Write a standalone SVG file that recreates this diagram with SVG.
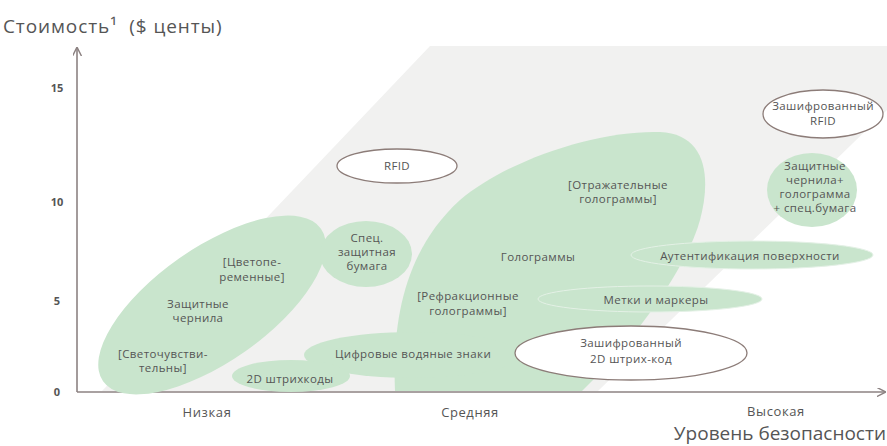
<svg xmlns="http://www.w3.org/2000/svg" width="887" height="446" viewBox="0 0 887 446">
<defs>
<style>
.g{fill:#c9e5cd}
.o{fill:#fff;stroke:#8c7c78;stroke-width:1.3}
.t{font-family:"Open Sans","Noto Sans",sans-serif;font-size:11.5px;letter-spacing:0.4px;fill:#555;text-anchor:middle}
.ax{stroke:#8c8282;stroke-width:1.6;fill:none}
.tick{font-family:"Open Sans","Noto Sans",sans-serif;font-size:11px;font-weight:bold;fill:#555;text-anchor:middle}
.lvl{font-family:"Open Sans","Noto Sans",sans-serif;font-size:13px;letter-spacing:0.6px;fill:#555;text-anchor:middle}
.big{font-family:"Open Sans","Noto Sans",sans-serif;font-size:19px;fill:#555}
</style>
<marker id="ar" viewBox="0 0 10 10" refX="9" refY="5" markerWidth="9" markerHeight="9" markerUnits="userSpaceOnUse" orient="auto">
<path d="M0,0 L10,5 L0,10" fill="none" stroke="#8c8282" stroke-width="1.6"/>
</marker>
</defs>
<rect width="887" height="446" fill="#fff"/>
<polygon points="102,391 430,46 887,46 887,110 598,391" fill="#f1f1f0"/>

<g id="axes">
<line class="ax" x1="77" y1="392" x2="77" y2="48" marker-end="url(#ar)"/>
<line class="ax" x1="77" y1="392" x2="885" y2="392" marker-end="url(#ar)"/>
<text class="tick" x="57" y="92">15</text>
<text class="tick" x="57" y="206">10</text>
<text class="tick" x="57" y="305">5</text>
<text class="tick" x="57" y="396">0</text>
<text class="lvl" x="207" y="417">Низкая</text>
<text class="lvl" x="470" y="417">Средняя</text>
<text class="lvl" x="776" y="416">Высокая</text>
<text class="big" x="3" y="33" font-size="19.5" letter-spacing="0.9" xml:space="preserve">Стоимость¹  ($ центы)</text>
<text class="big" x="886" y="440" text-anchor="end">Уровень безопасности</text>
</g>

<g id="holograms">
<path class="g" d="M395,391 C392,320 405,250 460,200 C510,158 600,130 660,132 C705,134 712,175 700,220 C688,265 640,330 605,368 L582,391 Z"/>
<text class="t" x="538" y="261">Голограммы</text>
<text class="t" x="618" y="189">[Отражательные</text>
<text class="t" x="618" y="203">голограммы]</text>
<text class="t" x="468" y="300">[Рефракционные</text>
<text class="t" x="468" y="315">голограммы]</text>
</g>

<g id="ink">
<ellipse class="g" cx="212" cy="305" rx="133" ry="57" transform="rotate(-35 212 305)"/>
<text class="t" x="252" y="266">[Цветопе-</text>
<text class="t" x="252" y="281">ременные]</text>
<text class="t" x="198" y="308">Защитные</text>
<text class="t" x="198" y="322">чернила</text>
<text class="t" x="163" y="358">[Светочувстви-</text>
<text class="t" x="163" y="372">тельны]</text>
</g>

<g id="paper">
<ellipse class="g" cx="366" cy="254" rx="46" ry="33"/>
<text class="t" x="367" y="242">Спец.</text>
<text class="t" x="367" y="256">защитная</text>
<text class="t" x="367" y="270">бумага</text>
</g>

<g id="watermarks">
<ellipse class="g" cx="412" cy="355" rx="108" ry="23"/>
<text class="t" x="413" y="358">Цифровые водяные знаки</text>
</g>

<g id="barcodes2d">
<ellipse class="g" cx="291" cy="376" rx="59" ry="16"/>
<text class="t" x="290" y="383">2D штрихкоды</text>
</g>

<g id="tags">
<ellipse class="g" cx="650" cy="299" rx="112" ry="13" stroke="#e4f1e6" stroke-width="1"/>
<text class="t" x="656" y="304">Метки и маркеры</text>
</g>

<g id="surface">
<ellipse class="g" cx="752" cy="255" rx="121" ry="14" stroke="#e4f1e6" stroke-width="1"/>
<text class="t" x="750" y="260">Аутентификация поверхности</text>
</g>

<g id="combo">
<ellipse class="g" cx="812" cy="190" rx="45" ry="37"/>
<text class="t" x="815" y="170">Защитные</text>
<text class="t" x="815" y="184">чернила+</text>
<text class="t" x="815" y="198">голограмма</text>
<text class="t" x="815" y="212">+ спец.бумага</text>
</g>

<g id="rfid">
<ellipse class="o" cx="397" cy="166" rx="60" ry="17"/>
<text class="t" x="397" y="170">RFID</text>
</g>

<g id="enc-rfid">
<ellipse class="o" cx="823" cy="114" rx="60" ry="24"/>
<text class="t" x="823" y="110">Зашифрованный</text>
<text class="t" x="823" y="125">RFID</text>
</g>

<g id="enc-2d">
<ellipse class="o" cx="631" cy="353" rx="116" ry="27"/>
<text class="t" x="631" y="347">Зашифрованный</text>
<text class="t" x="631" y="363">2D штрих-код</text>
</g>

<g id="connectors"></g>
</svg>
